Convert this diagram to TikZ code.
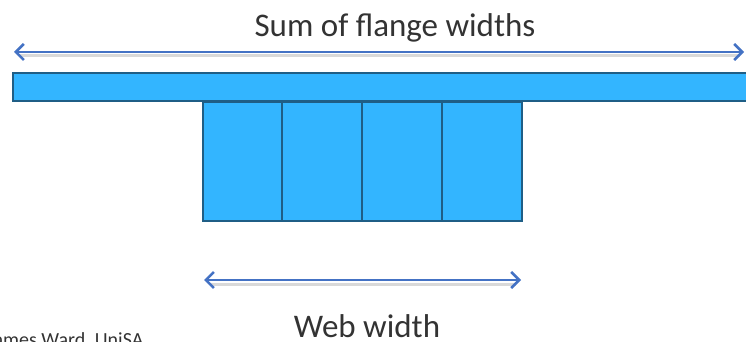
\documentclass[tikz,border=0pt]{standalone}
\usepackage{fontspec}
\setmainfont{Carlito}
\usetikzlibrary{arrows.meta}
\definecolor{beamfill}{HTML}{33B5FF}
\definecolor{beamline}{HTML}{1F5E86}
\definecolor{arrowblue}{HTML}{4472C4}
\begin{document}
\begin{tikzpicture}[x=1pt,y=-1pt,
  part/.style={draw=beamline,fill=beamfill,line width=2pt},
  tip/.style={Straight Barb[length=8pt,width=16pt,line width=2.6pt]},
  dimarrow/.style={draw=arrowblue,line width=2.6pt,{Straight Barb[length=8pt,width=16pt,line width=2.6pt]}-{Straight Barb[length=8pt,width=16pt,line width=2.6pt]}},
  shadowline/.style={draw=black!15,line width=3pt},
  lbl/.style={font=\fontsize{33}{38}\selectfont,text=black!80,inner sep=0pt,anchor=base}]
\useasboundingbox (0,0) rectangle (746,342);
% flange
\path[part] (13,73) rectangle (760,101);
% web segments
\node[part,minimum width=79pt,minimum height=119pt,anchor=north west,inner sep=0pt] (w1) at (202,101) {};
\node[part,minimum width=80pt,minimum height=119pt,anchor=north west,inner sep=0pt] (w2) at (281,101) {};
\node[part,minimum width=80pt,minimum height=119pt,anchor=north west,inner sep=0pt] (w3) at (361,101) {};
\node[part,minimum width=80pt,minimum height=119pt,anchor=north west,inner sep=0pt] (w4) at (441,101) {};
% top dimension
\coordinate (tl) at (14,52);
\coordinate (tr) at (744,52);
\draw[shadowline] (20,56) -- (740,56);
\draw[dimarrow] (tl) -- (tr);
\node[lbl] (title) at (395,37) {Sum of flange widths};
% bottom dimension
\coordinate (bl) at (204,280);
\coordinate (br) at (521,280);
\draw[shadowline] (210,284) -- (516,284);
\draw[dimarrow] (bl) -- (br);
\node[lbl] (web) at (367,337) {Web width};
% credit
\node[font=\fontsize{20}{24}\selectfont,text=black!80,inner sep=0pt,anchor=base west] (credit) at (-13,346) {James Ward, UniSA};
\end{tikzpicture}
\end{document}
